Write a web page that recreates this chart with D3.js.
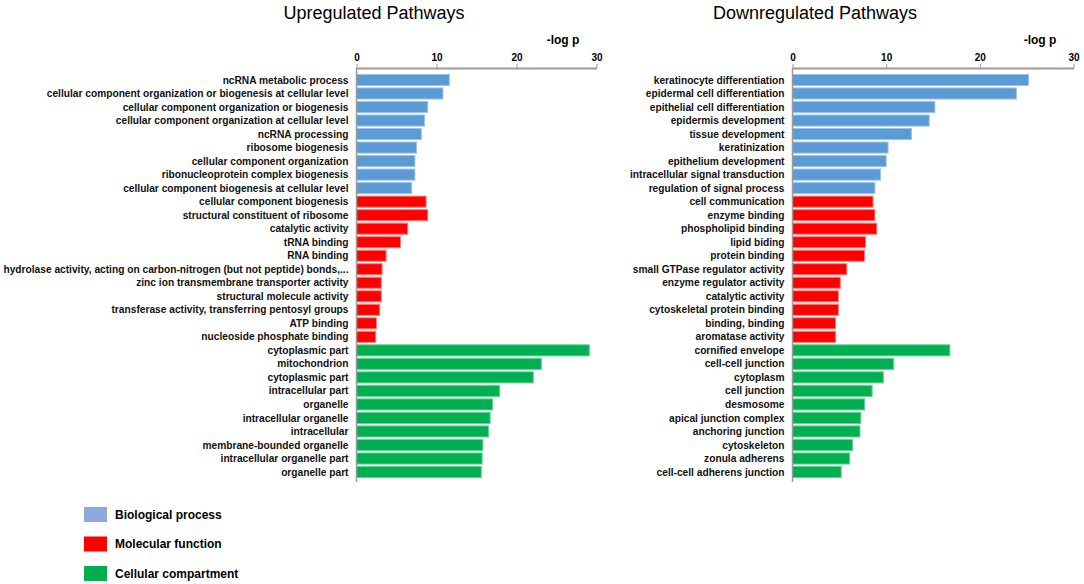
<!DOCTYPE html>
<html>
<head>
<meta charset="utf-8">
<script src="https://cdn.jsdelivr.net/npm/d3@7"></script>
<style>
  body { margin: 0; background: #fff; }
  svg { display: block; font-family: "Liberation Sans", Arial, sans-serif; }
</style>
</head>
<body>
<svg id="chart"></svg>
<script>
// row groups, top to bottom: 9 biological process, 11 molecular function, 10 cellular compartment
const groupNames = ["Biological process", "Molecular function", "Cellular compartment"];
const groupSizes = [9, 11, 10];

const upTerms = [
  "ncRNA metabolic process",
  "cellular component organization or biogenesis at cellular level",
  "cellular component organization or biogenesis",
  "cellular component organization at cellular level",
  "ncRNA processing",
  "ribosome biogenesis",
  "cellular component organization",
  "ribonucleoprotein complex biogenesis",
  "cellular component biogenesis at cellular level",
  "cellular component biogenesis",
  "structural constituent of ribosome",
  "catalytic activity",
  "tRNA binding",
  "RNA binding",
  "hydrolase activity, acting on carbon-nitrogen (but not peptide) bonds,...",
  "zinc ion transmembrane transporter activity",
  "structural molecule activity",
  "transferase activity, transferring pentosyl groups",
  "ATP binding",
  "nucleoside phosphate binding",
  "cytoplasmic part",
  "mitochondrion",
  "cytoplasmic part",
  "intracellular part",
  "organelle",
  "intracellular organelle",
  "intracellular",
  "membrane-bounded organelle",
  "intracellular organelle part",
  "organelle part"
];
const upValues = [
  11.6, 10.8, 8.9, 8.5, 8.1, 7.5, 7.3, 7.3, 6.9,
  8.7, 8.9, 6.4, 5.5, 3.7, 3.2, 3.1, 3.1, 2.9, 2.5, 2.4,
  29.1, 23.1, 22.1, 17.9, 17.0, 16.7, 16.5, 15.8, 15.7, 15.6
];

const downTerms = [
  "keratinocyte differentiation",
  "epidermal cell differentiation",
  "epithelial cell differentiation",
  "epidermis development",
  "tissue development",
  "keratinization",
  "epithelium development",
  "intracellular signal transduction",
  "regulation of signal process",
  "cell communication",
  "enzyme binding",
  "phospholipid binding",
  "lipid biding",
  "protein binding",
  "small GTPase regulator activity",
  "enzyme regulator activity",
  "catalytic activity",
  "cytoskeletal protein binding",
  "binding, binding",
  "aromatase activity",
  "cornified envelope",
  "cell-cell junction",
  "cytoplasm",
  "cell junction",
  "desmosome",
  "apical junction complex",
  "anchoring junction",
  "cytoskeleton",
  "zonula adherens",
  "cell-cell adherens junction"
];
const downValues = [
  25.2, 23.9, 15.2, 14.6, 12.7, 10.2, 10.0, 9.4, 8.8,
  8.6, 8.8, 9.0, 7.8, 7.7, 5.8, 5.1, 4.9, 4.9, 4.6, 4.6,
  16.8, 10.8, 9.7, 8.5, 7.7, 7.3, 7.2, 6.4, 6.1, 5.2
];

const tickValues = [0, 10, 20, 30];

const width = 1084, height = 584;
const svg = d3.select("#chart").attr("width", width).attr("height", height);

const fill = ["#5B9BD5", "#FF0000", "#00B050"];
const edge = ["#9DC3E6", "#FF8080", "#66D096"];
const legendFill = ["#8EA9DB", "#FF0000", "#00B050"];

// group index for each row
const groupOf = groupSizes.flatMap((n, g) => d3.range(n).map(() => g));

const y = d3.scaleBand()
  .domain(d3.range(30))
  .range([72, 480])
  .padding(0.18);

function panel(title, titleX, terms, values, x0, x1, unitX) {
  const x = d3.scaleLinear().domain([0, 30]).range([x0, x1]);
  const g = svg.append("g");

  g.append("text")
    .attr("x", titleX).attr("y", 19)
    .attr("text-anchor", "middle")
    .style("font-size", "18px")
    .text(title);

  g.append("text")
    .attr("x", unitX).attr("y", 44)
    .attr("text-anchor", "middle")
    .style("font-size", "12px")
    .style("font-weight", "bold")
    .text("-log p");

  const axis = g.append("g")
    .attr("transform", "translate(0,68)")
    .call(d3.axisTop(x).tickValues(tickValues).tickSize(4).tickSizeOuter(0));
  axis.select(".domain").attr("stroke", "#9a9a9a").attr("stroke-width", 2);
  axis.selectAll(".tick line").attr("stroke", "#9a9a9a");
  axis.selectAll(".tick text")
    .attr("fill", "#000")
    .style("font-size", "10px")
    .style("font-weight", "bold");

  const rows = d3.range(terms.length);

  g.selectAll("rect.bar")
    .data(rows)
    .join("rect")
    .attr("class", "bar")
    .attr("x", x(0))
    .attr("y", i => y(i))
    .attr("width", i => x(values[i]) - x(0))
    .attr("height", y.bandwidth())
    .attr("fill", i => fill[groupOf[i]])
    .attr("stroke", i => edge[groupOf[i]])
    .attr("stroke-width", 1);

  g.selectAll("text.term")
    .data(rows)
    .join("text")
    .attr("class", "term")
    .attr("x", x(0) - 8)
    .attr("y", i => y(i) + y.bandwidth() / 2)
    .attr("dy", "0.35em")
    .attr("text-anchor", "end")
    .style("font-size", "10.2px")
    .style("font-weight", "bold")
    .attr("fill", "#111")
    .text(i => terms[i]);

  g.append("line")
    .attr("x1", x(0)).attr("x2", x(0))
    .attr("y1", 68).attr("y2", 482)
    .attr("stroke", "#9a9a9a")
    .attr("stroke-width", 1.5);
}

panel("Upregulated Pathways", 374, upTerms, upValues, 356.5, 596.5, 563);
panel("Downregulated Pathways", 815, downTerms, downValues, 792.5, 1073.5, 1040);

const legend = svg.append("g")
  .selectAll("g")
  .data(groupNames)
  .join("g")
  .attr("transform", (d, i) => `translate(84,${507 + i * 29.5})`);

legend.append("rect")
  .attr("width", 23).attr("height", 15)
  .attr("fill", (d, i) => legendFill[i]);

legend.append("text")
  .attr("x", 31).attr("y", 7.5)
  .attr("dy", "0.35em")
  .style("font-size", "12px")
  .style("font-weight", "bold")
  .text(d => d);
</script>
</body>
</html>
